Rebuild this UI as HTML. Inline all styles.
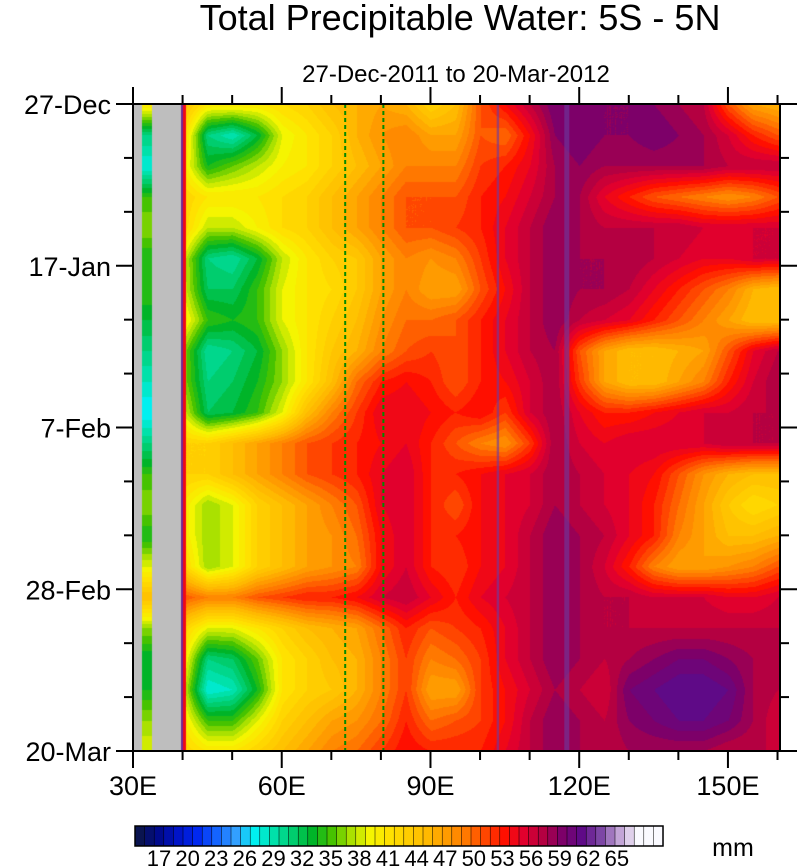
<!DOCTYPE html>
<html><head><meta charset="utf-8"><style>
body{margin:0;background:#fff;width:800px;height:867px;overflow:hidden;font-family:"Liberation Sans",sans-serif}
#wrap{position:relative;width:800px;height:867px}
canvas{position:absolute;left:0;top:0}
svg{position:absolute;left:0;top:0}
</style></head><body>
<div id="wrap">
<canvas id="cv" width="800" height="867"></canvas>
<svg id="sv" width="800" height="867"></svg>
</div>
<script>
// ---- data ----
const lons = [40,45,50,55,60,65,70,75,80,85,90,95,100,105,110,115,120,125,130,135,140,145,150,155,160];
const days = [0,4,8,12,16,20,24,28,32,36,40,44,48,52,56,60,64,68,72,76,80,84];
const tpw = [
[44,40,40,40,41,42,44,45,46,45,42,44,50,53,56,59,59,58,58,58,57,56,50,46,45],
[42,30,28,32,38,40,42,45,47,48,46,46,50,49,53,58,59,58,58,59,58,57,55,52,50],
[40,33,35,37,39,40,42,44,46,48,48,48,51,52,54,57,58,57,57,57,57,57,56,56,56],
[42,40,40,40,41,42,44,46,48,50,50,50,52,53,55,57,57,54,52,50,49,48,47,48,50],
[42,37,37,39,41,42,44,46,48,50,50,51,52,54,56,58,57,56,56,56,56,55,55,55,55],
[38,30,29,32,37,40,42,43,46,48,47,48,51,54,56,58,57,57,57,56,55,54,54,55,55],
[38,31,31,34,38,40,41,43,46,48,46,46,50,53,56,58,57,57,56,54,52,50,48,45,44],
[40,34,33,34,38,40,42,44,47,49,49,50,52,54,56,58,56,55,54,52,50,48,46,44,44],
[36,29,30,32,36,40,43,45,48,50,51,50,52,54,56,57,50,46,44,44,45,46,50,54,56],
[36,30,31,33,36,40,44,49,52,53,52,50,52,53,55,57,51,46,44,44,46,48,52,55,57],
[38,31,32,34,38,44,48,51,54,54,53,52,53,51,55,57,54,52,52,53,54,55,55,56,56],
[42,42,44,46,48,50,51,52,53,54,52,50,48,47,51,57,55,54,55,55,55,55,56,56,56],
[42,42,44,46,48,50,51,52,54,55,52,52,53,54,55,57,56,55,54,53,50,47,45,44,44],
[40,36,38,42,44,46,48,50,54,55,52,50,53,54,55,57,56,55,54,52,49,46,43,41,42],
[40,36,38,42,44,46,47,49,53,55,52,52,53,54,56,58,57,56,54,52,48,46,44,44,45],
[42,36,38,42,44,46,47,48,53,55,52,51,53,54,56,58,57,55,52,48,46,46,47,48,50],
[50,48,48,50,51,52,52,53,55,56,54,52,54,55,56,58,57,56,56,55,55,55,54,54,55],
[42,38,38,40,42,44,45,46,49,52,50,51,52,54,56,58,57,56,56,56,56,56,56,56,56],
[40,30,31,35,40,42,44,45,48,51,48,49,51,54,56,58,57,56,57,58,59,59,58,57,56],
[38,27,28,33,40,42,43,45,48,51,46,46,51,53,55,57,56,55,59,60,61,61,60,57,56],
[40,34,34,38,42,44,46,47,49,52,49,50,51,53,56,58,57,56,58,59,60,60,59,57,55],
[42,40,40,42,44,46,48,49,51,53,52,52,52,54,56,58,57,56,57,57,57,57,56,56,56]
];
const coastStrip = [40,30,27,34,36,33,34,32,30,28,26,30,34,36,33,38,44,36,32,33,36,38];
const cbLabels = [17,20,23,26,29,32,35,38,41,44,47,50,53,56,59,62,65];
const xTickLabels = ["30E","60E","90E","120E","150E"];
const xTickLons = [30,60,90,120,150];
const yTickLabels = ["27-Dec","17-Jan","7-Feb","28-Feb","20-Mar"];
const yTickDays = [0,21,42,63,84];
const dashedLons = [72.8,80.5];

// ---- axes ----
const X0=133,X1=780,Y0=104,Y1=751;
const lonMin=30,lonMax=160.5,dayMax=84;
const xs = l => X0+(l-lonMin)/(lonMax-lonMin)*(X1-X0);
const ys = d => Y0+d/dayMax*(Y1-Y0);

const stops=[[14,[10,20,80]],[16,[0,10,140]],[18,[0,20,200]],[20,[0,40,240]],[22,[20,100,255]],[24,[50,160,255]],[26,[0,240,240]],[28,[0,225,170]],[30,[0,205,110]],[32,[0,180,40]],[34,[70,195,0]],[36,[170,225,0]],[38,[245,245,0]],[40,[255,225,0]],[42,[255,205,0]],[44,[255,185,0]],[46,[255,155,0]],[48,[255,120,0]],[50,[255,70,0]],[52,[255,15,0]],[54,[225,0,45]],[56,[180,0,65]],[58,[125,0,105]],[60,[95,10,135]],[62,[125,70,165]],[64,[195,165,215]],[66,[250,250,255]]];
function colorOf(v){
  v=Math.floor(v);
  if(v<=stops[0][0])return stops[0][1];
  for(let i=1;i<stops.length;i++){
    if(v<=stops[i][0]){const a=stops[i-1],b=stops[i];const t=(v-a[0])/(b[0]-a[0]);
      return a[1].map((c,k)=>Math.round(c+(b[1][k]-c)*t));}
  }
  return stops[stops.length-1][1];
}
function interp(arr,x){
  if(x<=arr[0])return [0,0];
  if(x>=arr[arr.length-1])return [arr.length-2,1];
  for(let i=0;i<arr.length-1;i++) if(x<=arr[i+1]) return [i,(x-arr[i])/(arr[i+1]-arr[i])];
}
const cv=document.getElementById('cv');const ctx=cv.getContext('2d');
const img=ctx.createImageData(X1-X0,Y1-Y0);
for(let py=0;py<Y1-Y0;py++){
  const d=py/(Y1-Y0)*dayMax;const [j,ty]=interp(days,d);
  for(let px=0;px<X1-X0;px++){
    const l=lonMin+px/(X1-X0)*(lonMax-lonMin);
    let v,c;
    if(l<31.7||(l>33.7&&l<39.6)){c=[190,190,190];}
    else if(l<33.7){v=coastStrip[j]*(1-ty)+coastStrip[j+1]*ty;c=colorOf(v);}
    else{
      const [i,tx]=interp(lons,l);
      v=tpw[j][i]*(1-tx)*(1-ty)+tpw[j][i+1]*tx*(1-ty)+tpw[j+1][i]*(1-tx)*ty+tpw[j+1][i+1]*tx*ty;
      if(l<40.0) v=61; else if(l<40.6) v=53;
      c=colorOf(v);
    }
    const k=(py*(X1-X0)+px)*4;img.data[k]=c[0];img.data[k+1]=c[1];img.data[k+2]=c[2];img.data[k+3]=255;
  }
}
ctx.putImageData(img,X0,Y0);

const NS="http://www.w3.org/2000/svg";const sv=document.getElementById('sv');
function el(tag,attrs,parent){const e=document.createElementNS(NS,tag);for(const k in attrs)e.setAttribute(k,attrs[k]);(parent||sv).appendChild(e);return e;}
[103.6,117.5].forEach(l=>{
  const ln=el('line',{x1:xs(l),x2:xs(l),y1:Y0,y2:Y1,stroke:'#6a3aa0','stroke-width':l<110?2.5:5,'stroke-opacity':0.6});
  
  
});
dashedLons.forEach(l=>{
  const ln=el('line',{x1:xs(l),x2:xs(l),y1:Y0,y2:Y1,stroke:'#008a00','stroke-width':2,'stroke-dasharray':'4,3'});
  
  
});
const fr=el('rect',{x:X0,y:Y0,width:X1-X0,height:Y1-Y0,fill:'none',stroke:'#000','stroke-width':2});


for(let l=30;l<=160;l+=10){
  const major=xTickLons.includes(l);const len=major?17:9;const x=xs(l);
  el('line',{x1:x,x2:x,y1:Y1,y2:Y1+len,stroke:'#000','stroke-width':2});
  el('line',{x1:x,x2:x,y1:Y0,y2:Y0-len,stroke:'#000','stroke-width':2});
}
xTickLabels.forEach((t,i)=>{
  const tx=el('text',{x:xs(xTickLons[i]),y:795,'text-anchor':'middle','font-size':27,fill:'#000'});tx.textContent=t;
  
  
});
for(let d=0;d<=84;d+=7){
  const major=yTickDays.includes(d);const len=major?17:9;const y=ys(d);
  el('line',{x1:X0,x2:X0-len,y1:y,y2:y,stroke:'#000','stroke-width':2});
  el('line',{x1:X1,x2:X1+len,y1:y,y2:y,stroke:'#000','stroke-width':2});
}
yTickLabels.forEach((t,i)=>{
  const tx=el('text',{x:111,y:ys(yTickDays[i])+10,'text-anchor':'end','font-size':27,fill:'#000'});tx.textContent=t;
  
  
});
const t1=el('text',{x:460,y:30,'text-anchor':'middle','font-size':36,fill:'#000'});t1.textContent='Total Precipitable Water: 5S - 5N';


const t2=el('text',{x:456,y:82,'text-anchor':'middle','font-size':24,fill:'#000'});t2.textContent='27-Dec-2011 to 20-Mar-2012';


const cbX0=135,cbW=9.6,cbY=826,cbH=20,vStart=14;
for(let k=0;k<55;k++){
  const c=colorOf(vStart+k+0.5);
  const r=el('rect',{x:cbX0+k*cbW,y:cbY,width:cbW+0.3,height:cbH,fill:`rgb(${c[0]},${c[1]},${c[2]})`,stroke:'#000','stroke-width':0.5});
  
  
}
el('rect',{x:cbX0,y:cbY,width:55*cbW,height:cbH,fill:'none',stroke:'#000','stroke-width':1.5});
cbLabels.forEach(v=>{
  const tx=el('text',{x:159+(v-17)*9.54,y:866,'text-anchor':'middle','font-size':22,fill:'#000'});tx.textContent=v;
  
  
});
const mm=el('text',{x:733,y:856,'text-anchor':'middle','font-size':25,fill:'#000'});mm.textContent='mm';


</script>
</body></html>
